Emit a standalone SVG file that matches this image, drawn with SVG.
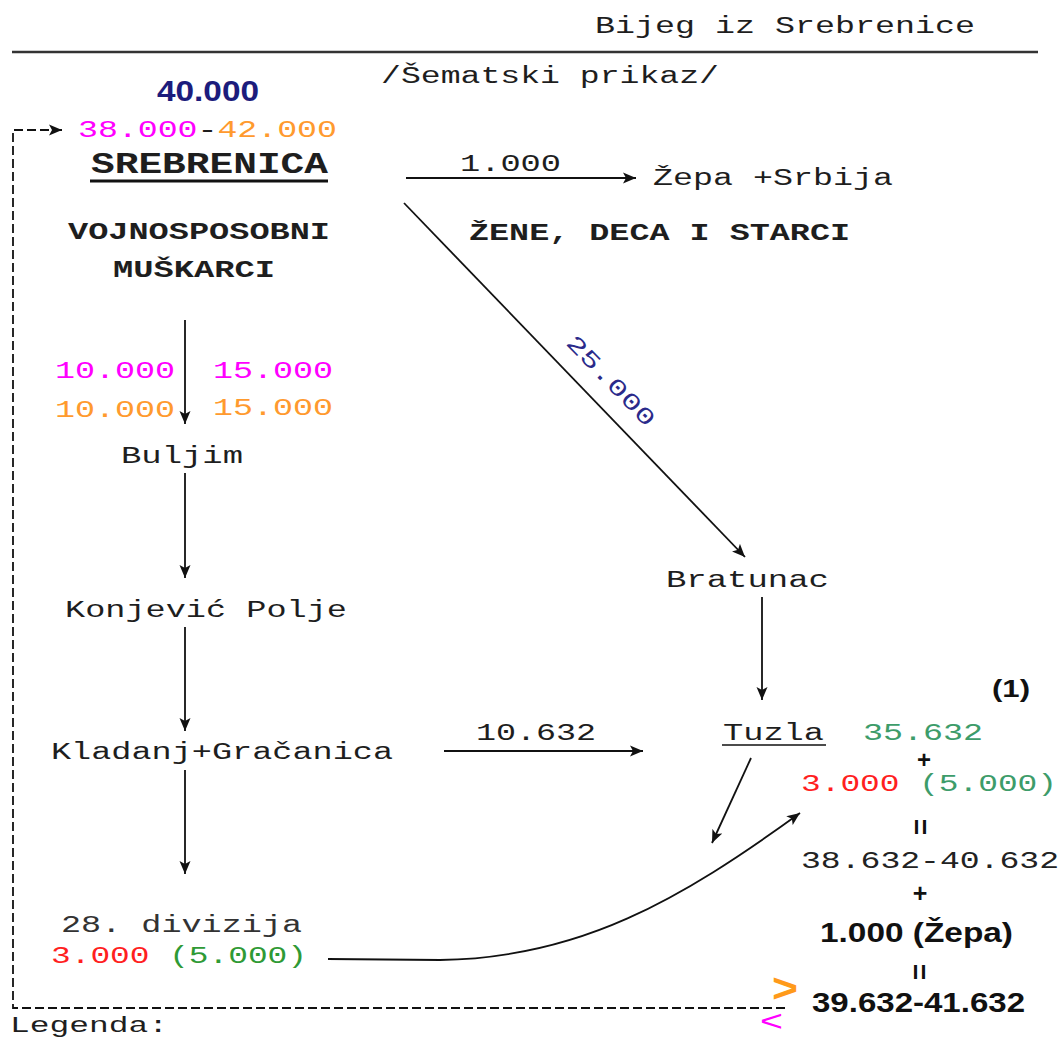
<svg xmlns="http://www.w3.org/2000/svg" width="1062" height="1038" viewBox="0 0 1062 1038">
<style>
.m{font-family:"Liberation Mono","Courier New",monospace;font-size:23px;fill:#1e1e1e}
.mb{font-family:"Liberation Mono","Courier New",monospace;font-size:23px;font-weight:bold;fill:#1e1e1e}
.s{font-family:"Liberation Sans",Arial,sans-serif;font-weight:bold;fill:#111}
.ln{fill:none;stroke:#111;stroke-width:1.8}
.mag{fill:#ff00ff}.org{fill:#ff9a2e}.red{fill:#ff1f1f}.sea{fill:#3d9c6a}.grn{fill:#2f9a35}.nav{fill:#1c1c7c}
</style>
<defs>
<marker id="ah" markerUnits="userSpaceOnUse" markerWidth="15" markerHeight="12" refX="13" refY="6" orient="auto">
<path d="M0,0.5 L13,6 L0,11.5 L3,6 z" fill="#111"/>
</marker>
</defs>
<rect width="1062" height="1038" fill="#fff"/>

<g id="header">
<text class="m" x="595" y="33" textLength="380" lengthAdjust="spacingAndGlyphs">Bijeg iz Srebrenice</text>
<line x1="12" y1="52" x2="1038" y2="52" stroke="#333" stroke-width="2.5"/>
<text class="m" x="381" y="83" textLength="338" lengthAdjust="spacingAndGlyphs">/Šematski prikaz/</text>
</g>

<g id="connectors">
<path class="ln" d="M785,1008 H13 V130 H62" stroke-dasharray="9 4" marker-end="url(#ah)"/>
<path class="ln" d="M406,178 H636" marker-end="url(#ah)"/>
<path class="ln" d="M404,203 L745,557" marker-end="url(#ah)"/>
<path class="ln" d="M185,320 V424" marker-end="url(#ah)"/>
<path class="ln" d="M185,473 V578" marker-end="url(#ah)"/>
<path class="ln" d="M185,627 V731" marker-end="url(#ah)"/>
<path class="ln" d="M185,770 V874" marker-end="url(#ah)"/>
<path class="ln" d="M444,751 H643" marker-end="url(#ah)"/>
<path class="ln" d="M762,597 V700" marker-end="url(#ah)"/>
<path class="ln" d="M751,758 L712,843" marker-end="url(#ah)"/>
<path class="ln" d="M328,959 L440,960 C580,958 680,900 800,813" marker-end="url(#ah)"/>
<text class="m" x="460" y="171" textLength="101" lengthAdjust="spacingAndGlyphs">1.000</text>
<text class="m" transform="translate(611,380) rotate(46)" x="-58" y="8" textLength="117" lengthAdjust="spacingAndGlyphs" style="fill:#2a2a8a">25.000</text>
<text class="m" x="476" y="740" textLength="120" lengthAdjust="spacingAndGlyphs">10.632</text>
<text class="m mag" x="55" y="378" textLength="120" lengthAdjust="spacingAndGlyphs">10.000</text>
<text class="m mag" x="213" y="378" textLength="120" lengthAdjust="spacingAndGlyphs">15.000</text>
<text class="m org" x="55" y="417" textLength="120" lengthAdjust="spacingAndGlyphs">10.000</text>
<text class="m org" x="213" y="415" textLength="120" lengthAdjust="spacingAndGlyphs">15.000</text>
</g>

<g id="srebrenica">
<text class="s nav" x="157" y="101" font-size="29" textLength="102" lengthAdjust="spacingAndGlyphs">40.000</text>
<text class="m" x="78" y="137" textLength="259" lengthAdjust="spacingAndGlyphs"><tspan class="mag">38.000</tspan>-<tspan class="org">42.000</tspan></text>
<text class="mb" x="91" y="173" style="font-size:30px" textLength="237" lengthAdjust="spacingAndGlyphs">SREBRENICA</text>
<line x1="90" y1="181" x2="328" y2="181" stroke="#111" stroke-width="3"/>
</g>

<g id="vojnosposobni">
<text class="mb" x="68" y="239" textLength="262" lengthAdjust="spacingAndGlyphs">VOJNOSPOSOBNI</text>
<text class="mb" x="113" y="277" textLength="162" lengthAdjust="spacingAndGlyphs">MUŠKARCI</text>
</g>

<g id="zepa-srbija">
<text class="m" x="653" y="185" textLength="240" lengthAdjust="spacingAndGlyphs">Žepa +Srbija</text>
</g>

<g id="zene">
<text class="mb" x="469" y="240" textLength="381" lengthAdjust="spacingAndGlyphs">ŽENE, DECA I STARCI</text>
</g>

<g id="buljim">
<text class="m" x="121" y="463" textLength="122" lengthAdjust="spacingAndGlyphs">Buljim</text>
</g>

<g id="konjevic">
<text class="m" x="65" y="617" textLength="282" lengthAdjust="spacingAndGlyphs">Konjević Polje</text>
</g>

<g id="kladanj">
<text class="m" x="51" y="759" textLength="342" lengthAdjust="spacingAndGlyphs">Kladanj+Gračanica</text>
</g>

<g id="divizija">
<text class="m" x="61" y="932" textLength="241" lengthAdjust="spacingAndGlyphs" style="fill:#333">28. divizija</text>
<text class="m" x="51" y="963" textLength="256" lengthAdjust="spacingAndGlyphs"><tspan class="red">3.000</tspan> <tspan class="grn">(5.000)</tspan></text>
</g>

<g id="bratunac">
<text class="m" x="666" y="587" textLength="163" lengthAdjust="spacingAndGlyphs">Bratunac</text>
</g>

<g id="tuzla">
<text class="m" x="723" y="740" textLength="101" lengthAdjust="spacingAndGlyphs">Tuzla</text>
<line x1="722" y1="745" x2="826" y2="745" stroke="#111" stroke-width="1.6"/>
</g>

<g id="sum">
<text class="s" x="992" y="697" font-size="24" textLength="38" lengthAdjust="spacingAndGlyphs">(1)</text>
<text class="m sea" x="863" y="740" textLength="120" lengthAdjust="spacingAndGlyphs">35.632</text>
<text class="s" x="924" y="768" font-size="24" text-anchor="middle">+</text>
<text class="m" x="801" y="791" textLength="256" lengthAdjust="spacingAndGlyphs"><tspan class="red">3.000</tspan> <tspan class="sea">(5.000)</tspan></text>
<text class="s" transform="translate(921,827) rotate(90)" x="0" y="10" font-size="28" text-anchor="middle">=</text>
<text class="m" x="801" y="868" textLength="258" lengthAdjust="spacingAndGlyphs" style="fill:#222">38.632-40.632</text>
<text class="s" x="920" y="902" font-size="25" text-anchor="middle">+</text>
<text class="s" x="820" y="942" font-size="28" textLength="193" lengthAdjust="spacingAndGlyphs">1.000 (Žepa)</text>
<text class="s" transform="translate(920,972) rotate(90)" x="0" y="10" font-size="28" text-anchor="middle">=</text>
<text class="s" x="812" y="1012" font-size="28" textLength="213" lengthAdjust="spacingAndGlyphs">39.632-41.632</text>
</g>

<g id="legenda">
<text class="s" x="772" y="1002" font-size="40" textLength="26" lengthAdjust="spacingAndGlyphs" style="fill:#ff9a1a">&gt;</text>
<text x="760" y="1031" font-family="Liberation Sans, Arial, sans-serif" font-size="30" textLength="23" lengthAdjust="spacingAndGlyphs" fill="#ff00ff">&lt;</text>
<text class="m" x="10" y="1032" style="font-size:22px" textLength="158" lengthAdjust="spacingAndGlyphs">Legenda:</text>
</g>
</svg>
